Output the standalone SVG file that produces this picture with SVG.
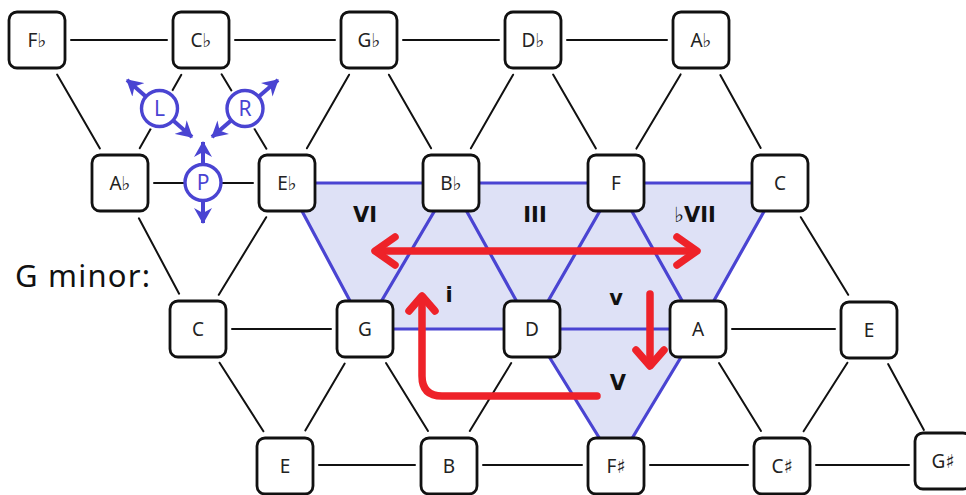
<svg xmlns="http://www.w3.org/2000/svg" width="966" height="495" viewBox="0 0 966 495">
<style>
.bk{stroke:#111;stroke-width:2;fill:none;stroke-linecap:round}
.bl{stroke:#4a44d2;stroke-width:3.2;fill:none;stroke-linecap:round}
.box{fill:#fff;stroke:#111;stroke-width:2.8}
.lbl{font-family:"Noto Sans","DejaVu Sans",sans-serif;font-size:19px;fill:#222;text-anchor:middle}
.rn{font-family:"DejaVu Sans","Noto Sans",sans-serif;font-weight:bold;font-size:21px;fill:#111;text-anchor:middle}
.red{stroke:#ee2229;stroke-width:7.5;fill:none;stroke-linecap:round;stroke-linejoin:round}
.ic{fill:#fff;stroke:#4a44d2;stroke-width:3.4}
.icl{font-family:"Noto Sans","DejaVu Sans",sans-serif;font-size:21px;fill:#4a44d2;text-anchor:middle}
.ia{stroke:#4a44d2;stroke-width:4;fill:none}
</style>
<defs>
<marker id="ah" viewBox="0 0 16 18" refX="15" refY="9" markerWidth="16" markerHeight="18" markerUnits="userSpaceOnUse" orient="auto-start-reverse">
<path d="M0,0 L16,9 L0,18 L5,9 z" fill="#4a44d2"/>
</marker>
</defs>
<rect width="966" height="495" fill="#fff"/>
<polygon id="region" points="287,183 780,183 698,329 616,465 532,329 365,329" fill="#dee1f6"/>
<g id="connectors">
<g class="bk">
<line x1="71" y1="40" x2="167" y2="40"/>
<line x1="235" y1="40" x2="335" y2="40"/>
<line x1="403" y1="40" x2="499" y2="40"/>
<line x1="567" y1="40" x2="667" y2="40"/>
<line x1="154" y1="183" x2="253" y2="183"/>
<line x1="232" y1="329" x2="331" y2="329"/>
<line x1="732" y1="329" x2="835" y2="329"/>
<line x1="319" y1="465" x2="415" y2="465"/>
<line x1="483" y1="465" x2="582" y2="465"/>
<line x1="650" y1="465" x2="748" y2="465"/>
<line x1="816" y1="465" x2="909" y2="465"/>
<line x1="57.1" y1="74.6" x2="99.9" y2="148.4"/>
<line x1="181.3" y1="74.8" x2="139.7" y2="148.2"/>
<line x1="221.6" y1="74.3" x2="266.4" y2="148.7"/>
<line x1="349.1" y1="74.7" x2="306.9" y2="148.3"/>
<line x1="388.9" y1="74.7" x2="431.1" y2="148.3"/>
<line x1="513.1" y1="74.7" x2="470.9" y2="148.3"/>
<line x1="553.1" y1="74.6" x2="595.9" y2="148.4"/>
<line x1="680.6" y1="74.4" x2="636.4" y2="148.6"/>
<line x1="720.3" y1="75" x2="760.7" y2="148"/>
<line x1="138.9" y1="218.3" x2="179.1" y2="293.7"/>
<line x1="266.2" y1="217.2" x2="218.8" y2="294.8"/>
<line x1="800.8" y1="217.2" x2="848.2" y2="294.8"/>
<line x1="219.6" y1="362.7" x2="263.4" y2="431.3"/>
<line x1="344.7" y1="363.5" x2="305.3" y2="430.5"/>
<line x1="386" y1="363" x2="428" y2="431"/>
<line x1="511.2" y1="363.1" x2="469.8" y2="430.9"/>
<line x1="719" y1="363" x2="761" y2="431"/>
<line x1="847.4" y1="362.7" x2="803.6" y2="431.3"/>
<line x1="888.1" y1="364.1" x2="923.9" y2="429.9"/>
</g>
<g class="bl">
<line x1="287" y1="183" x2="451" y2="183"/>
<line x1="451" y1="183" x2="616" y2="183"/>
<line x1="616" y1="183" x2="780" y2="183"/>
<line x1="287" y1="183" x2="365" y2="329"/>
<line x1="451" y1="183" x2="365" y2="329"/>
<line x1="451" y1="183" x2="532" y2="329"/>
<line x1="616" y1="183" x2="532" y2="329"/>
<line x1="616" y1="183" x2="698" y2="329"/>
<line x1="780" y1="183" x2="698" y2="329"/>
<line x1="365" y1="329" x2="532" y2="329"/>
<line x1="532" y1="329" x2="698" y2="329"/>
<line x1="532" y1="329" x2="616" y2="465"/>
<line x1="698" y1="329" x2="616" y2="465"/>
</g>
</g>
<g id="icon-L">
<circle cx="159.5" cy="108.5" r="22" fill="#fff"/>
<line class="ia" x1="127" y1="80" x2="192" y2="137" marker-start="url(#ah)" marker-end="url(#ah)"/>
<circle class="ic" cx="159.5" cy="108.5" r="18"/>
<text class="icl" x="159.5" y="116">L</text>
</g>
<g id="icon-R">
<circle cx="245" cy="108.5" r="22" fill="#fff"/>
<line class="ia" x1="278" y1="80" x2="212" y2="137" marker-start="url(#ah)" marker-end="url(#ah)"/>
<circle class="ic" cx="245" cy="108.5" r="18"/>
<text class="icl" x="245" y="116">R</text>
</g>
<g id="icon-P">
<line class="ia" x1="203" y1="142" x2="203" y2="223" marker-start="url(#ah)" marker-end="url(#ah)"/>
<circle class="ic" cx="203" cy="182.5" r="18"/>
<text class="icl" x="203" y="190">P</text>
</g>
<g id="node-Fb"><rect class="box" x="9" y="12" width="56" height="56" rx="8"/><text class="lbl" x="37" y="47">F♭</text></g>
<g id="node-Cb"><rect class="box" x="173" y="12" width="56" height="56" rx="8"/><text class="lbl" x="201" y="47">C♭</text></g>
<g id="node-Gb"><rect class="box" x="341" y="12" width="56" height="56" rx="8"/><text class="lbl" x="369" y="47">G♭</text></g>
<g id="node-Db"><rect class="box" x="505" y="12" width="56" height="56" rx="8"/><text class="lbl" x="533" y="47">D♭</text></g>
<g id="node-Ab-top"><rect class="box" x="673" y="12" width="56" height="56" rx="8"/><text class="lbl" x="701" y="47">A♭</text></g>
<g id="node-Ab"><rect class="box" x="92" y="155" width="56" height="56" rx="8"/><text class="lbl" x="120" y="190">A♭</text></g>
<g id="node-Eb"><rect class="box" x="259" y="155" width="56" height="56" rx="8"/><text class="lbl" x="287" y="190">E♭</text></g>
<g id="node-Bb"><rect class="box" x="423" y="155" width="56" height="56" rx="8"/><text class="lbl" x="451" y="190">B♭</text></g>
<g id="node-F"><rect class="box" x="588" y="155" width="56" height="56" rx="8"/><text class="lbl" x="616" y="190">F</text></g>
<g id="node-C-mid"><rect class="box" x="752" y="155" width="56" height="56" rx="8"/><text class="lbl" x="780" y="190">C</text></g>
<g id="node-C"><rect class="box" x="170" y="301" width="56" height="56" rx="8"/><text class="lbl" x="198" y="336">C</text></g>
<g id="node-G"><rect class="box" x="337" y="301" width="56" height="56" rx="8"/><text class="lbl" x="365" y="336">G</text></g>
<g id="node-D"><rect class="box" x="504" y="301" width="56" height="56" rx="8"/><text class="lbl" x="532" y="336">D</text></g>
<g id="node-A"><rect class="box" x="670" y="301" width="56" height="56" rx="8"/><text class="lbl" x="698" y="336">A</text></g>
<g id="node-E-mid"><rect class="box" x="841" y="302" width="56" height="56" rx="8"/><text class="lbl" x="869" y="337">E</text></g>
<g id="node-E"><rect class="box" x="257" y="438" width="56" height="56" rx="8"/><text class="lbl" x="285" y="473">E</text></g>
<g id="node-B"><rect class="box" x="421" y="438" width="56" height="56" rx="8"/><text class="lbl" x="449" y="473">B</text></g>
<g id="node-Fs"><rect class="box" x="588" y="438" width="56" height="56" rx="8"/><text class="lbl" x="616" y="473">F♯</text></g>
<g id="node-Cs"><rect class="box" x="754" y="438" width="56" height="56" rx="8"/><text class="lbl" x="782" y="473">C♯</text></g>
<g id="node-Gs"><rect class="box" x="915" y="433" width="56" height="56" rx="8"/><text class="lbl" x="943" y="468">G♯</text></g>
<g id="chord-labels">
<text class="rn" x="365" y="222">VI</text>
<text class="rn" x="535" y="222">III</text>
<text class="rn" x="695" y="222">♭VII</text>
<text class="rn" x="449" y="302">i</text>
<text class="rn" x="616" y="305">v</text>
<text class="rn" x="618" y="390">V</text>
</g>
<g id="red-arrows" class="red">
<path d="M376,251 H694"/>
<path d="M395,237 L375,251 L395,265"/>
<path d="M677,237 L697,251 L677,265"/>
<path d="M597,396 H442 Q422,396 422,376 V298"/>
<path d="M409,311 L422,296 L435,311"/>
<path d="M650,294 V365"/>
<path d="M636,350 L650,366 L664,350"/>
</g>
<text x="15" y="287" font-family="Noto Sans, DejaVu Sans, sans-serif" font-size="31" fill="#111" textLength="135" lengthAdjust="spacing">G minor:</text>
</svg>
